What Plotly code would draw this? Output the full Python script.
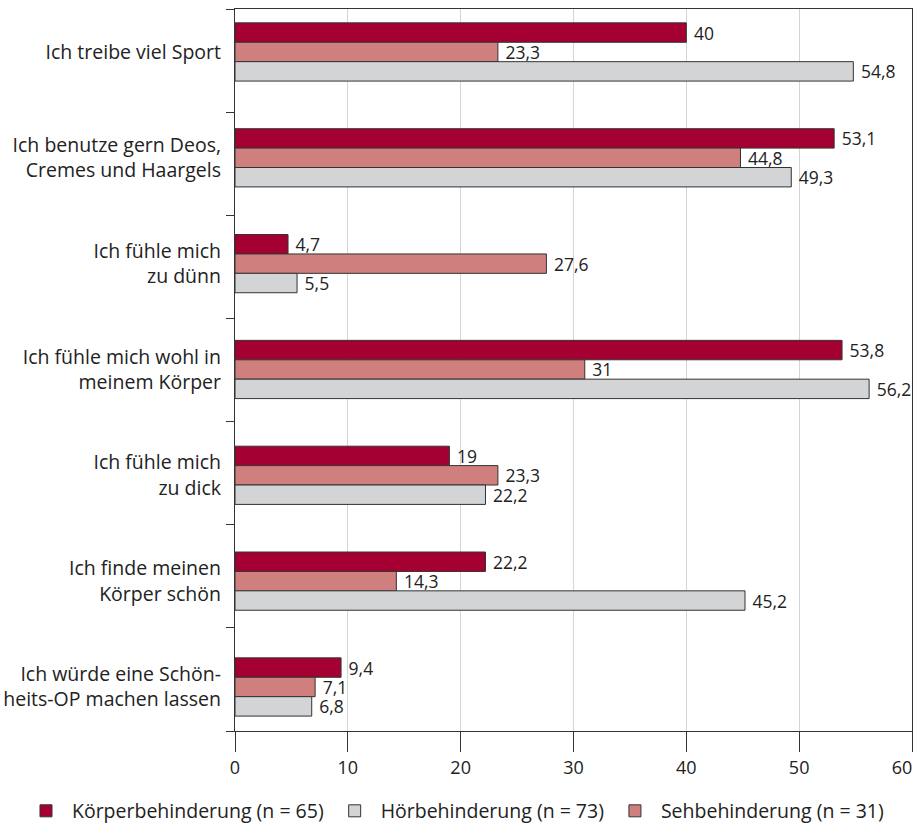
import plotly.graph_objects as go

categories = [
    "Ich treibe viel Sport",
    "Ich benutze gern Deos,<br>Cremes und Haargels",
    "Ich fühle mich<br>zu dünn",
    "Ich fühle mich wohl in<br>meinem Körper",
    "Ich fühle mich<br>zu dick",
    "Ich finde meinen<br>Körper schön",
    "Ich würde eine Schön-<br>heits-OP machen lassen",
]
koerper = [40, 53.1, 4.7, 53.8, 19, 22.2, 9.4]
seh = [23.3, 44.8, 27.6, 31, 23.3, 14.3, 7.1]
hoer = [54.8, 49.3, 5.5, 56.2, 22.2, 45.2, 6.8]
x_ticks = [0, 10, 20, 30, 40, 50, 60]

series = [
    ("Körperbehinderung (n = 65)", koerper, "#A50032", 1),
    ("Sehbehinderung (n = 31)", seh, "#CF7F7D", 3),
    ("Hörbehinderung (n = 73)", hoer, "#D3D4D6", 2),
]

FONT = "Open Sans"
TXT = "#222222"
positions = list(range(len(categories)))


def fmt(v):
    return "\u00a0" + f"{v:g}".replace(".", ",")


# the last x label is drawn on an overlay axis, nudged left to stay inside the frame
x_ticktext = [str(t) for t in x_ticks[:-1]] + [""]

fig = go.Figure()
for name, vals, color, rank in series:
    fig.add_trace(go.Bar(
        name=name,
        y=positions,
        x=vals,
        orientation="h",
        marker=dict(color=color, line=dict(color="#333333", width=1)),
        text=[fmt(v) for v in vals],
        textposition="outside",
        constraintext="none",
        textfont=dict(family=FONT, size=17.5, color=TXT),
        cliponaxis=False,
        legendrank=rank,
    ))

# helper trace so the overlay axes are drawn
fig.add_trace(go.Scatter(x=[None], y=[None], xaxis="x2", yaxis="y2",
                         showlegend=False, hoverinfo="skip"))

fig.update_layout(
    width=915,
    height=831,
    margin=dict(l=235, r=3, t=9, b=100, autoexpand=False),
    paper_bgcolor="white",
    plot_bgcolor="white",
    barmode="group",
    bargap=0.45,
    bargroupgap=0,
    font=dict(family=FONT, size=19, color=TXT),
    xaxis=dict(
        range=[0, 60],
        tickvals=x_ticks,
        ticktext=x_ticktext,
        ticks="outside",
        ticklen=20,
        tickcolor="#333333",
        showgrid=True,
        gridcolor="#D5D5D5",
        gridwidth=1,
        zeroline=False,
        showline=True,
        linecolor="#333333",
        linewidth=1.2,
        mirror=True,
        tickfont=dict(family=FONT, size=18, color=TXT),
    ),
    xaxis2=dict(
        overlaying="x",
        side="bottom",
        range=[0, 60],
        tickvals=[x_ticks[-1]],
        ticktext=[str(x_ticks[-1])],
        ticks="outside",
        ticklen=20,
        tickcolor="#333333",
        ticklabelshift=-10,
        showgrid=False,
        zeroline=False,
        showline=False,
        tickfont=dict(family=FONT, size=18, color=TXT),
    ),
    yaxis=dict(
        range=[6.416, -0.406],
        tickvals=positions,
        ticktext=categories,
        ticks="",
        showgrid=False,
        zeroline=False,
        showline=True,
        linecolor="#333333",
        linewidth=1.2,
        mirror=True,
        ticklabelstandoff=9,
        tickfont=dict(family=FONT, size=19.5, color=TXT),
    ),
    yaxis2=dict(
        overlaying="y",
        side="left",
        range=[7, 0],
        tickvals=list(range(len(categories) + 1)),
        showticklabels=False,
        ticks="outside",
        ticklen=8,
        tickcolor="#333333",
        showgrid=False,
        zeroline=False,
        showline=False,
    ),
    legend=dict(
        orientation="h",
        x=-0.3176,
        xanchor="left",
        y=-0.111,
        yanchor="middle",
        font=dict(family=FONT, size=19.5, color=TXT),
        traceorder="normal",
        itemwidth=42,
    ),
)

fig.write_html("out.html")
